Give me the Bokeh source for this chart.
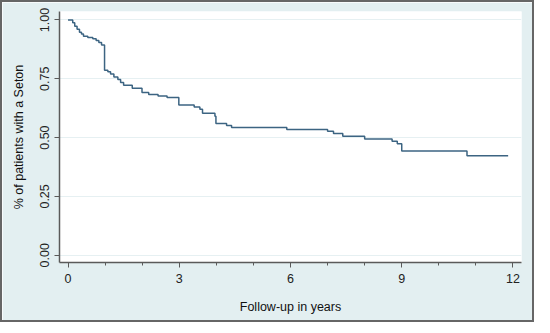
from bokeh.plotting import figure
from bokeh.models import Range1d, FixedTicker, CustomJSTickFormatter
from bokeh.embed import file_html
from bokeh.resources import INLINE

# Kaplan-Meier step data (years, proportion with seton)
times = [0.0, 0.127, 0.181, 0.244, 0.309, 0.363, 0.417, 0.533, 0.668, 0.758, 0.831, 0.904,
         0.985, 1.074, 1.147, 1.237, 1.344, 1.418, 1.499, 1.732, 1.995, 2.176, 2.428, 2.671,
         2.988, 3.402, 3.556, 3.627, 3.962, 3.989, 4.276, 4.411, 5.90, 7.00, 7.16, 7.41,
         8.00, 8.74, 8.88, 9.00, 10.76, 11.87]
surv = [1.000, 0.988, 0.973, 0.961, 0.948, 0.940, 0.931, 0.925, 0.920, 0.913, 0.904, 0.894,
        0.786, 0.780, 0.770, 0.758, 0.747, 0.734, 0.723, 0.710, 0.692, 0.683, 0.677, 0.670,
        0.639, 0.630, 0.620, 0.603, 0.591, 0.560, 0.551, 0.543, 0.534, 0.527, 0.517, 0.506,
        0.494, 0.484, 0.474, 0.443, 0.423, 0.423]

x_major = [0, 3, 6, 9, 12]
x_minor = list(range(0, 13))
y_major = [0.0, 0.25, 0.5, 0.75, 1.0]

BG = "#e3eff1"
AX = "#5a5a5a"

p = figure(width=534, height=322, output_backend="svg", toolbar_location=None,
           x_range=Range1d(-0.23, 12.23), y_range=Range1d(-0.031, 1.036),
           min_border_left=57, min_border_right=15, min_border_top=9, min_border_bottom=62,
           background_fill_color="white", border_fill_color=BG,
           styles={"border": "2px solid #666666"})
p.outline_line_color = None

p.step(times, surv, mode="after", line_color="#3c6482", line_width=1.5)

p.xaxis.ticker = FixedTicker(ticks=x_major, minor_ticks=x_minor)
p.yaxis.ticker = FixedTicker(ticks=y_major)
p.yaxis.formatter = CustomJSTickFormatter(code="return tick.toFixed(2);")

for ax in (p.xaxis, p.yaxis):
    ax.axis_line_color = AX
    ax.axis_line_width = 1.5
    ax.major_tick_line_color = AX
    ax.minor_tick_line_color = AX
    ax.major_tick_in = 0
    ax.major_tick_out = 5
    ax.minor_tick_in = 0
    ax.minor_tick_out = 3
    ax.major_label_text_font = "Liberation Sans"
    ax.major_label_text_font_size = "12.5px"
    ax.major_label_text_color = "#222222"
    ax.axis_label_text_font = "Liberation Sans"
    ax.axis_label_text_font_size = "12.5px"
    ax.axis_label_text_font_style = "normal"
    ax.axis_label_text_color = "#111111"

p.yaxis.minor_tick_line_color = None
p.yaxis.major_label_orientation = "vertical"
p.xaxis.axis_label = "Follow-up in years"
p.yaxis.axis_label = "% of patients with a Seton"
p.xaxis.major_label_standoff = 6
p.xaxis.axis_label_standoff = 14
p.yaxis.major_label_standoff = 5
p.yaxis.axis_label_standoff = 12

p.xgrid.grid_line_color = None
p.ygrid.ticker = FixedTicker(ticks=y_major)
p.ygrid.grid_line_color = "#e6f0f2"
p.ygrid.grid_line_width = 1.2

open("out.html", "w").write(file_html(p, INLINE))
